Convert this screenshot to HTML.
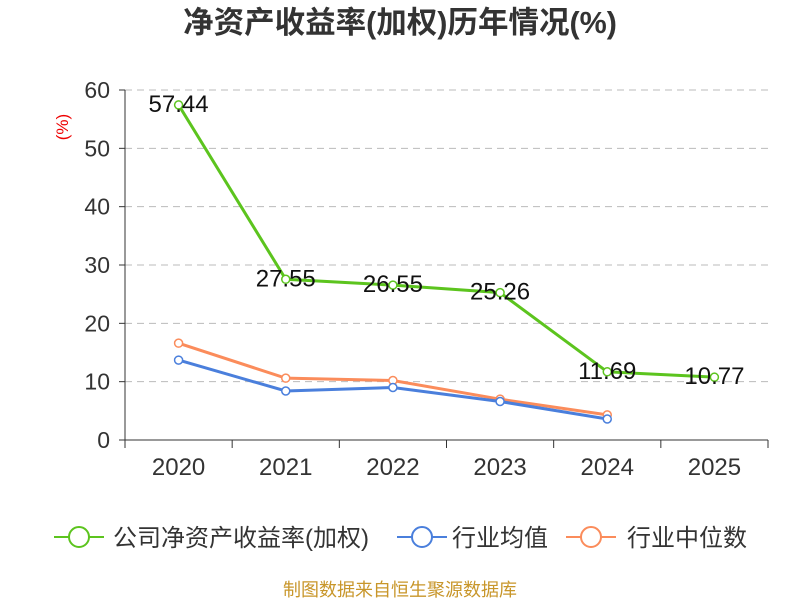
<!DOCTYPE html>
<html><head><meta charset="utf-8"><style>
body{margin:0;background:#fff}
svg text{font-family:"Liberation Sans","Noto Sans CJK SC",sans-serif}
</style></head><body>
<svg id="c" width="800" height="600" xmlns="http://www.w3.org/2000/svg">
<text x="400" y="33" text-anchor="middle" font-size="30.5" font-weight="bold" fill="#333">净资产收益率(加权)历年情况(%)</text>
<text x="68" y="127" font-size="17" fill="#e00" transform="rotate(-90 68 127)" text-anchor="middle">(%)</text>
<g id="grid"></g><g id="axes"></g><g id="series"></g>
<g>
<g><line x1="54" y1="537" x2="104" y2="537" stroke="#5cc41e" stroke-width="2"/><circle cx="79" cy="537" r="10" fill="#fff" stroke="#5cc41e" stroke-width="2"/><text x="113" y="546" font-size="24" fill="#333">公司净资产收益率(加权)</text></g>
<g><line x1="397" y1="537" x2="447" y2="537" stroke="#4a7fdc" stroke-width="2"/><circle cx="422" cy="537" r="10" fill="#fff" stroke="#4a7fdc" stroke-width="2"/><text x="452" y="546" font-size="24" fill="#333">行业均值</text></g>
<g><line x1="566" y1="537" x2="616" y2="537" stroke="#fb8c5b" stroke-width="2"/><circle cx="591" cy="537" r="10" fill="#fff" stroke="#fb8c5b" stroke-width="2"/><text x="627" y="546" font-size="24" fill="#333">行业中位数</text></g>
</g>
<text x="400" y="596" text-anchor="middle" font-size="18" fill="#c8962a">制图数据来自恒生聚源数据库</text>
</svg>
<script>
const categories=["2020","2021","2022","2023","2024","2025"];
const companyValues=[57.44,27.55,26.55,25.26,11.69,10.77];
const avgValues=[13.7,8.4,9.0,6.6,3.6];
const medianValues=[16.6,10.6,10.2,7.0,4.3];
const yTicks=[0,10,20,30,40,50,60];
const NS="http://www.w3.org/2000/svg";
const x0=125,x1=768,yb=440,yt=90,yMax=60;
const bw=(x1-x0)/categories.length;
const X=i=>x0+bw*(i+0.5);
const Y=v=>yb-(v/yMax)*(yb-yt);
function mk(t,a,p){const e=document.createElementNS(NS,t);for(const k in a)e.setAttribute(k,a[k]);p.appendChild(e);return e;}
const grid=document.getElementById('grid'),axes=document.getElementById('axes'),ser=document.getElementById('series');
yTicks.forEach(v=>{
 if(v>0){const l=mk('line',{x1:x0,x2:x1,y1:Y(v),y2:Y(v),stroke:'#bbb','stroke-dasharray':'7,5'},grid);
 
 }
 mk('line',{x1:x0-6,x2:x0,y1:Y(v),y2:Y(v),stroke:'#333'},axes);
 const t=mk('text',{x:x0-15,y:Y(v)+8,'text-anchor':'end','font-size':23,fill:'#333'},axes);t.textContent=v;
 
 
});
mk('line',{x1:x0,x2:x0,y1:yt,y2:yb,stroke:'#333'},axes);
mk('line',{x1:x0,x2:x1,y1:yb,y2:yb,stroke:'#333'},axes);
for(let i=0;i<=categories.length;i++)mk('line',{x1:x0+bw*i,x2:x0+bw*i,y1:yb,y2:yb+8,stroke:'#333'},axes);
categories.forEach((c,i)=>{const t=mk('text',{x:X(i),y:475,'text-anchor':'middle','font-size':24,fill:'#333'},axes);t.textContent=c;
 
 });
function line(vals,color,name,labels){
 const g=mk('g',{},ser);
 
 
 mk('polyline',{points:vals.map((v,i)=>X(i)+','+Y(v)).join(' '),fill:'none',stroke:color,'stroke-width':3},g);
 vals.forEach((v,i)=>{const c=mk('circle',{cx:X(i),cy:Y(v),r:4,fill:'#fff',stroke:color,'stroke-width':1.5},g);
  
  
  if(labels){const t=mk('text',{x:X(i),y:Y(v)+7,'text-anchor':'middle','font-size':24,fill:'#111'},g);t.textContent=v.toFixed(2);
  
  }});
}
line(medianValues,'#fb8c5b','industry-median-line',false);
line(avgValues,'#4a7fdc','industry-avg-line',false);
line(companyValues,'#5cc41e','company-roe-line',true);
</script>
</body></html>
